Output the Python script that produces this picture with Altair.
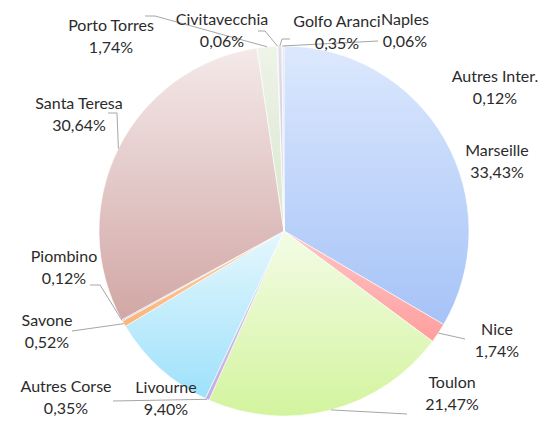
import altair as alt
import pandas as pd

# ---- data (clockwise from 12 o'clock) ----
ports = ["Marseille", "Nice", "Toulon", "Autres Corse", "Livourne", "Savone",
         "Piombino", "Santa Teresa", "Porto Torres", "Civitavecchia",
         "Golfo Aranci", "Naples", "Autres Inter."]
pct = [33.43, 1.74, 21.47, 0.35, 9.40, 0.52, 0.12, 30.64, 1.74, 0.06,
       0.35, 0.06, 0.12]

# ---- styles: gradient top / bottom colours per slice ----
col_top = ["#dce8fd", "#ffc6c6", "#f3fce6", "#dcd0f2", "#e5f7fe", "#fdd5b0",
           "#dde5f1", "#f4e9e9", "#eef4e9", "#e6e6e6", "#e2deee", "#dad2f2", "#e2e2e2"]
col_bot = ["#a6c3f7", "#ff9e9e", "#d3f49e", "#c2aee3", "#9ee1fa", "#fbb47a",
           "#b8c8e0", "#d1a7a5", "#d9e6cd", "#c8c8c8", "#c4bedc", "#b6abe0", "#c0c0c0"]

# ---- layout (page pixel positions: label first-line centre, leader elbows) ----
lab_x = [497, 497, 452, 66, 166, 47, 64, 79, 111, 222, 337, 405, 495]
lab_y = [151, 330, 383, 387, 388, 321, 257, 104, 26, 20, 22, 20, 77]
lead_ax = [None, 465, 407, 113, None, 72, 100, 117, 155, 265, 282, 378, None]
lead_ay = [None, 339, 414, 401, None, 331, 285, 113, 16, 31, 39, 41, None]
lead_bx = [None, None, None, None, None, None, 90, 108, 145, 258, 290, None, None]
lead_by = [None, None, None, None, None, None, 285, 113, 16, 31, 39, None, None]

M = 8            # page margin
W, H = 542, 408  # chart size
CX, CY, R = 284 - M, 231 - M, 185


def sh(v):
    return None if v is None else v - M


df = pd.DataFrame({
    "port": ports,
    "pct": pct,
    "order": list(range(len(ports))),
    "lx": [sh(v) for v in lab_x],
    "ly": [sh(v) for v in lab_y],
    "ax": [sh(v) for v in lead_ax],
    "ay": [sh(v) for v in lead_ay],
    "bx": [sh(v) for v in lead_bx],
    "by": [sh(v) for v in lead_by],
})

xs = alt.Scale(domain=[0, W], range=[0, W], zero=False, nice=False)
ys = alt.Scale(domain=[0, H], range=[0, H], zero=False, nice=False)

base = alt.Chart(df).transform_window(
    cum="sum(pct)", sort=[alt.SortField("order")], frame=[None, 0]
).transform_calculate(
    start="datum.cum - datum.pct",
    mid="datum.cum - datum.pct / 2",
)

layers = []
for i, p in enumerate(ports):
    grad = alt.LinearGradient(
        gradient="linear",
        stops=[alt.GradientStop(color=col_top[i], offset=0),
               alt.GradientStop(color=col_bot[i], offset=1)],
        x1=0, x2=0, y1=0, y2=1,
    )
    layers.append(
        base.transform_filter(alt.datum.port == p)
        .mark_arc(fill=grad, stroke="#ffffff", strokeWidth=0.6, radius=R)
        .encode(
            theta=alt.Theta("start:Q", scale=alt.Scale(domain=[0, 100])),
            theta2="cum:Q",
            x=alt.value(CX),
            y=alt.value(CY),
        )
    )

edge = base.transform_calculate(
    ang="datum.mid / 100 * 2 * PI",
).transform_calculate(
    ex=f"{CX} + {R} * sin(datum.ang)",
    ey=f"{CY} - {R} * cos(datum.ang)",
)

lead1 = edge.transform_filter("isValid(datum.ax)").mark_rule(
    color="#a6a6a6", strokeWidth=1
).encode(
    x=alt.X("ex:Q", scale=xs, axis=None),
    y=alt.Y("ey:Q", scale=ys, axis=None),
    x2="ax:Q",
    y2="ay:Q",
)

lead2 = base.transform_filter("isValid(datum.bx)").mark_rule(
    color="#a6a6a6", strokeWidth=1
).encode(
    x=alt.X("ax:Q", scale=xs, axis=None),
    y=alt.Y("ay:Q", scale=ys, axis=None),
    x2="bx:Q",
    y2="by:Q",
)

labels = base.transform_calculate(
    label="datum.port + '\\n' + replace(format(datum.pct, '.2f'), '.', ',') + '%'"
).mark_text(
    font="Lato", fontSize=16, color="#2b2b2b", lineBreak="\n",
    lineHeight=21.5, align="center", baseline="middle",
).encode(
    x=alt.X("lx:Q", scale=xs, axis=None),
    y=alt.Y("ly:Q", scale=ys, axis=None),
    text="label:N",
)

chart = alt.layer(*layers, lead1, lead2, labels).properties(
    width=W, height=H, padding=0,
    autosize=alt.AutoSizeParams(type="none"),
).configure_view(stroke=None)

chart.save("out.html", embed_options={"renderer": "svg", "actions": False})
